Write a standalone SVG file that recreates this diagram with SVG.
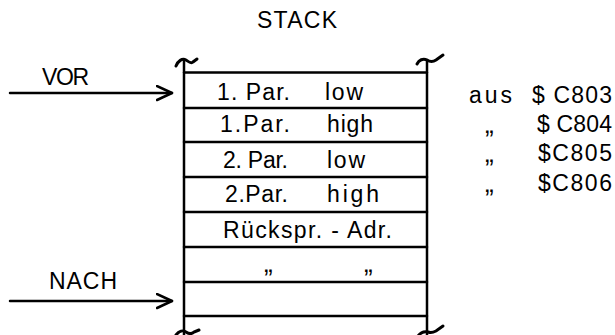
<svg xmlns="http://www.w3.org/2000/svg" width="615" height="335" viewBox="0 0 615 335">
  <defs>
    <style>
      .ln { stroke: #000; stroke-width: 2.5; fill: none; stroke-linecap: round; stroke-linejoin: round; }
      .tl { stroke: #000; stroke-width: 3; fill: none; stroke-linecap: round; }
      text { font-family: "Liberation Sans", Arial, sans-serif; font-size: 23px; fill: #000; }
      .dit { font-size: 26px; }
    </style>
    <marker id="openHead" markerWidth="20" markerHeight="20" refX="16" refY="8" orient="auto" markerUnits="userSpaceOnUse">
      <path d="M1,1 L16,8 L1,15" fill="none" stroke="#000" stroke-width="2.5" stroke-linecap="round" stroke-linejoin="round"/>
    </marker>
  </defs>
  <rect width="615" height="335" fill="#fff"/>

  <g id="title">
    <text x="257" y="28" textLength="80" lengthAdjust="spacing">STACK</text>
  </g>

  <!-- stack frame with broken-off ends -->
  <g id="stack">
    <path class="ln" d="M184,61 L184,335"/>
    <path class="ln" d="M427,60 L427,335"/>
    <path class="tl" d="M176,66 C178,61 182,58 186,60 C189,62 191,64 193,62 L197,59"/>
    <path class="tl" d="M417,64 C419,60 423,58 427,60 C430,62 433,62 436,60 L443,55"/>
    <path class="tl" d="M176,335 C179,331 183,330 186,332 C189,334 192,334 194,332 L199,330"/>
    <path class="tl" d="M418,336 C421,332 424,331 428,332 C431,333 434,332 436,331 L443,326"/>
    <!-- cell boundaries -->
    <path class="ln" d="M184,72.5 H427 M184,108 H427 M184,142 H427 M184,177 H427 M184,212 H427 M184,247 H427 M184,282 H427 M184,316 H427"/>
  </g>

  <g id="cell-1">
    <text x="217" y="100" textLength="73" lengthAdjust="spacing">1. Par.</text>
    <text x="325" y="100" textLength="38" lengthAdjust="spacing">low</text>
  </g>
  <g id="cell-2">
    <text x="220" y="132" textLength="70" lengthAdjust="spacing">1.Par.</text>
    <text x="327" y="132" textLength="46" lengthAdjust="spacing">high</text>
  </g>
  <g id="cell-3">
    <text x="223" y="168" textLength="65" lengthAdjust="spacing">2. Par.</text>
    <text x="327" y="168" textLength="38" lengthAdjust="spacing">low</text>
  </g>
  <g id="cell-4">
    <text x="225" y="202" textLength="63" lengthAdjust="spacing">2.Par.</text>
    <text x="327" y="202" textLength="52" lengthAdjust="spacing">high</text>
  </g>
  <g id="cell-5">
    <text x="223" y="238" textLength="169" lengthAdjust="spacing">Rückspr. - Adr.</text>
  </g>
  <g id="cell-6">
    <text class="dit" x="264" y="272">„</text>
    <text class="dit" x="364" y="272">„</text>
  </g>
  <g id="cell-7"></g>

  <g id="addresses">
    <text x="469" y="103" textLength="43" lengthAdjust="spacing">aus</text>
    <text x="532" y="103" textLength="80" lengthAdjust="spacing">$ C803</text>
    <text class="dit" x="485" y="133">„</text>
    <text x="537" y="132" textLength="75" lengthAdjust="spacing">$ C804</text>
    <text class="dit" x="485" y="162">„</text>
    <text x="538" y="161" textLength="74" lengthAdjust="spacing">$C805</text>
    <text class="dit" x="485" y="192">„</text>
    <text x="538" y="191" textLength="74" lengthAdjust="spacing">$C806</text>
  </g>

  <g id="pointer-vor">
    <text x="42" y="85" textLength="47" lengthAdjust="spacing">VOR</text>
  </g>
  <g id="pointer-nach">
    <text x="49" y="289" textLength="68" lengthAdjust="spacing">NACH</text>
  </g>

  <g id="connectors">
    <path class="ln" d="M10,93 L172,93" marker-end="url(#openHead)"/>
    <path class="ln" d="M10,301 L172,301" marker-end="url(#openHead)"/>
  </g>
</svg>
